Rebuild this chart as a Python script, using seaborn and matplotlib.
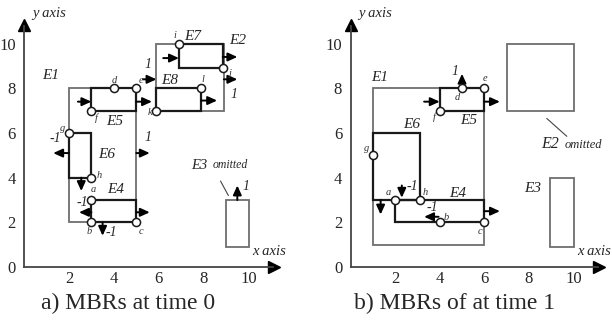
import matplotlib
matplotlib.use("Agg")
import matplotlib.pyplot as plt
from matplotlib.patches import Rectangle
import pandas as pd
import seaborn as sns

sns.set_style("white")
plt.rcParams["font.family"] = ["Liberation Serif", "DejaVu Serif"]

DARK = "#1a1a1a"
GREY = "#6e6e6e"

# ── data: MBRs at time 0 ──────────────────────────────────────────────────────
# (name, x0, x1, y0, y1)
a_outer = [("E1", 2, 5, 2, 8), ("E2", 5.9, 8.9, 7, 10), ("E3", 9, 10, 0.9, 3)]
a_inner = [("E4", 3, 5, 2, 3), ("E5", 3, 5, 7, 8), ("E6", 2, 3, 4, 6),
           ("E7", 6.9, 8.85, 8.9, 10), ("E8", 5.9, 7.9, 7, 8)]
a_pt_names = ["a", "b", "c", "d", "e", "f", "g", "h", "i", "j", "k", "l"]
a_pt_x = [3, 3, 5, 4, 5, 3, 2, 3, 6.9, 8.85, 5.9, 7.9]
a_pt_y = [3, 2, 2, 8, 8, 7, 6, 4, 10, 8.9, 7, 8]
# velocity arrows: x, y, dx, dy
a_arrows = [(2.4, 7.4, 0.6, 0), (5, 7.4, 0.7, 0), (5, 5.1, 0.6, 0),
            (2, 5.1, -0.7, 0), (2.55, 4, 0, -0.6), (3, 2.45, -0.55, 0),
            (5, 2.45, 0.6, 0), (3.5, 2, 0, -0.6), (5.3, 8.4, 0.6, 0),
            (6.2, 9.35, 0.7, 0), (8.85, 9.4, 0.65, 0), (8.9, 8.4, 0.6, 0),
            (7.9, 7.45, 0.7, 0), (9.5, 3, 0, 0.65)]
a_vel_labels = [("1", 5.5, 5.8), ("-1", 1.4, 5.75), ("-1", 2.6, 2.9),
                ("-1", 3.9, 1.55), ("1", 5.5, 9.05), ("1", 9.35, 7.7),
                ("1", 9.9, 3.6)]
a_box_labels = [("E1", 1.2, 8.55), ("E4", 4.1, 3.45), ("E5", 4.05, 6.5),
                ("E6", 3.7, 5.05), ("E7", 7.5, 10.3), ("E8", 6.5, 8.35),
                ("E2", 9.5, 10.15)]
a_pt_label_pos = [(3.1, 3.45), (2.9, 1.6), (5.2, 1.6), (4.0, 8.35), (5.2, 8.35),
                  (3.2, 6.65), (1.7, 6.2), (3.35, 4.1), (6.7, 10.35), (9.15, 8.65),
                  (5.6, 6.9), (7.95, 8.4)]

# ── data: MBRs at time 1 ──────────────────────────────────────────────────────
b_outer = [("E1", 1, 6, 1, 8), ("E2", 7, 10, 7, 10), ("E3", 8.95, 10, 0.9, 4)]
b_inner = [("E4", 2, 6, 2, 3), ("E5", 4, 6, 7, 8), ("E6", 1, 3.1, 3, 6)]
b_pt_names = ["g", "a", "h", "b", "c", "f", "d", "e"]
b_pt_x = [1, 2, 3.1, 4, 6, 4, 5, 6]
b_pt_y = [5, 3, 3, 2, 2, 7, 8, 8]
b_arrows = [(1.35, 3, 0, -0.65), (2.3, 3.65, 0, -0.55), (3.95, 2.25, -0.65, 0),
            (6, 2.5, 0.7, 0), (3.3, 7.4, 0.7, 0), (6, 7.4, 0.7, 0),
            (5, 8, 0, 0.65)]
b_vel_labels = [("-1", 2.75, 3.6), ("-1", 3.65, 2.65), ("1", 4.7, 8.75)]
b_box_labels = [("E1", 1.3, 8.5), ("E6", 2.75, 6.4), ("E4", 4.8, 3.3),
                ("E5", 5.3, 6.55), ("E3", 8.15, 3.5)]
b_pt_label_pos = [(0.7, 5.3), (1.7, 3.35), (3.35, 3.35), (4.3, 2.2), (5.8, 1.6),
                  (3.75, 6.7), (4.8, 7.6), (6.05, 8.45)]


def draw_axes(ax):
    ax.spines[["top", "right"]].set_visible(False)
    ax.spines["left"].set_position(("data", 0))
    ax.spines["bottom"].set_position(("data", 0))
    ax.spines["left"].set_bounds(0, 10.8)
    ax.spines["bottom"].set_bounds(0, 11.1)
    for s in ("left", "bottom"):
        ax.spines[s].set_color("#444444")
        ax.spines[s].set_linewidth(1.3)
    ax.set_xticks([2, 4, 6, 8, 10])
    ax.set_xticks([1, 3, 5, 7, 9], minor=True)
    ax.set_yticks([0, 2, 4, 6, 8, 10])
    ax.set_yticks([1, 3, 5, 7, 9], minor=True)
    ax.tick_params(which="both", direction="in", length=5, width=1.1,
                   color="#444444", labelsize=12)
    ax.tick_params(axis="x", pad=3)
    ax.tick_params(axis="y", pad=6)
    ax.plot([0], [10.85], marker="^", color="black", markersize=9, clip_on=False)
    ax.plot([11.15], [0], marker=">", color="black", markersize=9, clip_on=False)
    ax.text(0.35, 11.35, "y axis", fontsize=10.5, style="italic", va="center")
    ax.text(10.15, 0.7, "x axis", fontsize=10.5, style="italic", va="center")


def draw_boxes(ax, outer, inner):
    for _, x0, x1, y0, y1 in outer:
        ax.add_patch(Rectangle((x0, y0), x1 - x0, y1 - y0, fill=False,
                               edgecolor=GREY, lw=1.3))
    for _, x0, x1, y0, y1 in inner:
        ax.add_patch(Rectangle((x0, y0), x1 - x0, y1 - y0, fill=False,
                               edgecolor=DARK, lw=1.6))


def draw_arrows(ax, arrows):
    for x, y, dx, dy in arrows:
        ax.annotate("", xy=(x + dx, y + dy), xytext=(x, y),
                    arrowprops=dict(arrowstyle="-|>,head_length=0.55,head_width=0.25",
                                    color="black", lw=1.4, shrinkA=0, shrinkB=0))


def draw_points(ax, names, xs, ys, label_pos):
    df = pd.DataFrame({"name": names, "x": xs, "y": ys})
    sns.scatterplot(data=df, x="x", y="y", ax=ax, s=34, color="white",
                    edgecolor=DARK, linewidth=1.1, zorder=5, legend=False)
    for n, (lx, ly) in zip(names, label_pos):
        ax.text(lx, ly, n, fontsize=7.5, style="italic", ha="center", va="center",
                color="#333333")


fig = plt.figure(figsize=(6.12, 3.2), dpi=100)
ax_a = fig.add_axes([0.00253, 0.0956, 0.488, 0.901])
ax_b = fig.add_axes([0.5363, 0.0956, 0.4664, 0.901])

# ── panel a ───────────────────────────────────────────────────────────────────
draw_boxes(ax_a, a_outer, a_inner)
draw_arrows(ax_a, a_arrows)
draw_points(ax_a, a_pt_names, a_pt_x, a_pt_y, a_pt_label_pos)
for t, x, y in a_vel_labels:
    ax_a.text(x, y, t, fontsize=10, style="italic", ha="center", va="center")
for t, x, y in a_box_labels:
    ax_a.text(x, y, t, fontsize=11, style="italic", ha="center", va="center")
ax_a.text(7.45, 4.55, "E3", fontsize=10.5, style="italic", ha="left", va="center")
ax_a.text(8.4, 4.55, "omitted", fontsize=8.5, style="italic", ha="left", va="center")
ax_a.plot([8.75, 9.1], [3.85, 3.2], color="#444444", lw=0.8)
ax_a.set_xlim(-1, 12.3)
ax_a.set_ylim(-1, 11.9)
draw_axes(ax_a)
ax_a.set_xlabel("")
ax_a.set_ylabel("")

# ── panel b ───────────────────────────────────────────────────────────────────
draw_boxes(ax_b, b_outer, b_inner)
draw_arrows(ax_b, b_arrows)
draw_points(ax_b, b_pt_names, b_pt_x, b_pt_y, b_pt_label_pos)
for t, x, y in b_vel_labels:
    ax_b.text(x, y, t, fontsize=10, style="italic", ha="center", va="center")
for t, x, y in b_box_labels:
    ax_b.text(x, y, t, fontsize=11, style="italic", ha="center", va="center")
ax_b.text(8.55, 5.5, "E2", fontsize=11.5, style="italic", ha="left", va="center")
ax_b.text(9.6, 5.45, "omitted", fontsize=9, style="italic", ha="left", va="center")
ax_b.plot([8.8, 9.7], [6.65, 5.85], color="#444444", lw=0.8)
ax_b.set_xlim(-1, 11.8)
ax_b.set_ylim(-1, 11.9)
draw_axes(ax_b)
ax_b.set_xlabel("")
ax_b.set_ylabel("")

fig.text(128 / 612, 1 - 303 / 320, "a) MBRs at time 0", fontsize=17,
         ha="center", va="center")
fig.text(455 / 612, 1 - 303 / 320, "b) MBRs of at time 1", fontsize=17,
         ha="center", va="center")

fig.savefig("out.png", dpi=100)
